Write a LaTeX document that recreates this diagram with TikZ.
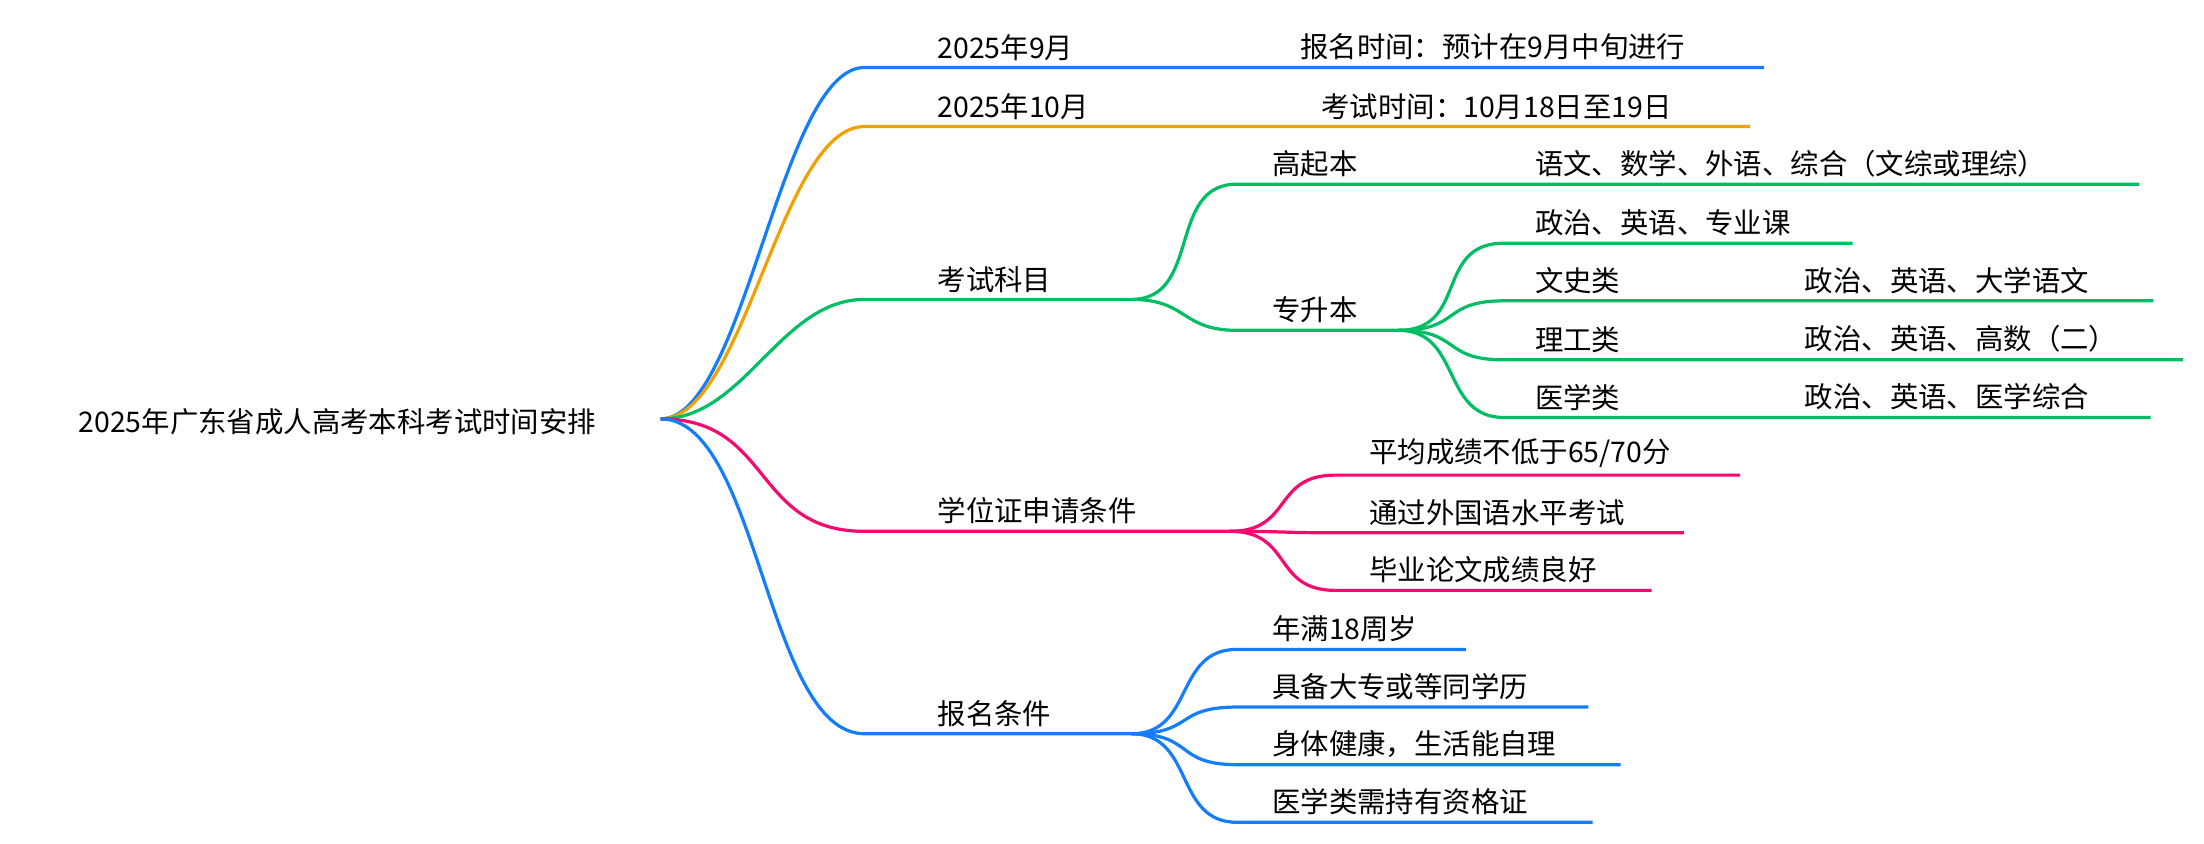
\documentclass[tikz,border=0pt]{standalone}
\usepackage{fontspec}
\setmainfont{Noto Sans CJK SC}
\usetikzlibrary{positioning}
\definecolor{cblue}{RGB}{20,125,250}
\definecolor{corange}{RGB}{240,160,0}
\definecolor{cgreen}{RGB}{0,190,100}
\definecolor{cpink}{RGB}{245,10,110}
\tikzset{
  lbl/.style={anchor=south west, inner sep=1pt, font=\fontsize{11.5}{13}\selectfont},
  branch/.style={line width=1.3pt},
}
\begin{document}
\begin{tikzpicture}[x=0.02cm, y=-0.02cm]
\useasboundingbox (0,0) rectangle (1568,600);

\node [anchor=center, font=\fontsize{11.5}{13}\selectfont] (root) at (240,300) {2025年广东省成人高考本科考试时间安排};
\coordinate (r) at (470,298);

% level one
\foreach \n/\y/\t in {a/48/2025年9月, b/90/2025年10月, c/213/考试科目, d/378/学位证申请条件, e/522/报名条件}
  \node [lbl] (\n) at (665,\y-3) {\t};

\node [lbl] (a1) at (923,45) {报名时间：预计在9月中旬进行};
\node [lbl] (b1) at (938,87) {考试时间：10月18日至19日};
\draw [branch, cblue] (r) .. controls +(60,0) and +(-60,0) .. (615,48) -- (1255,48);
\draw [branch, corange] (r) .. controls +(60,0) and +(-60,0) .. (615,90) -- (1245,90);

% exam subjects
\draw [branch, cgreen] (r) .. controls +(60,0) and +(-60,0) .. (615,213) -- (805,213);
\node [lbl] (c1) at (903,128) {高起本};
\node [lbl] (c2) at (903,232) {专升本};
\node [lbl] (c11) at (1090,128) {语文、数学、外语、综合（文综或理综）};
\draw [branch, cgreen] (805,213) .. controls +(50,0) and +(-50,0) .. (880,131) -- (1522,131);
\draw [branch, cgreen] (805,213) .. controls +(40,0) and +(-40,0) .. (880,235) -- (995,235);
\node [lbl] (c21) at (1090,170) {政治、英语、专业课};
\draw [branch, cgreen] (995,235) .. controls +(50,0) and +(-50,0) .. (1070,173) -- (1318,173);
\foreach \n/\y/\t/\s/\e in {2/214/文史类/政治、英语、大学语文/1532, 3/256/理工类/政治、英语、高数（二）/1553, 4/297/医学类/政治、英语、医学综合/1530} {
  \node [lbl] (c2\n) at (1090,\y-3) {\t};
  \node [lbl] (c2\n s) at (1282,\y-3) {\s};
  \draw [branch, cgreen] (995,235) .. controls +(45,0) and +(-45,0) .. (1070,\y) -- (\e,\y);
}

% degree conditions
\draw [branch, cpink] (r) .. controls +(80,0) and +(-80,0) .. (615,378) -- (875,378);
\foreach \n/\y/\t/\e in {1/338/{平均成绩不低于65/70分}/1238, 2/379/通过外国语水平考试/1198, 3/420/毕业论文成绩良好/1175} {
  \node [lbl] (d\n) at (972,\y-3) {\t};
  \draw [branch, cpink] (875,378) .. controls +(45,0) and +(-45,0) .. (950,\y) -- (\e,\y);
}

% registration conditions
\draw [branch, cblue] (r) .. controls +(70,0) and +(-70,0) .. (615,522) -- (805,522);
\foreach \n/\y/\t/\e in {1/462/年满18周岁/1043, 2/503/具备大专或等同学历/1130, 3/544/身体健康，生活能自理/1153, 4/585/医学类需持有资格证/1133} {
  \node [lbl] (e\n) at (903,\y-3) {\t};
  \draw [branch, cblue] (805,522) .. controls +(45,0) and +(-45,0) .. (880,\y) -- (\e,\y);
}

\end{tikzpicture}
\end{document}
